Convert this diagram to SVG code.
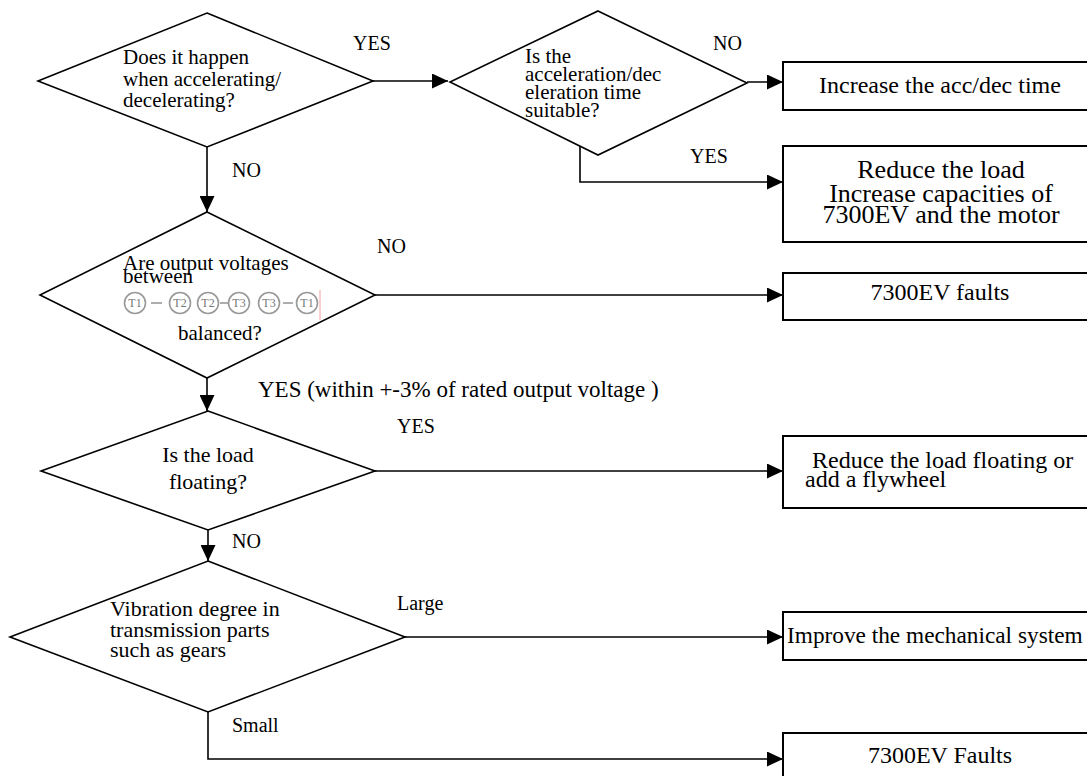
<svg xmlns="http://www.w3.org/2000/svg" width="1087" height="776" viewBox="0 0 1087 776">
<style>
text{font-family:"Liberation Serif","Times New Roman",serif;fill:#000}
.d{fill:#fff;stroke:#000;stroke-width:1.6}
.b{fill:#fff;stroke:#000;stroke-width:2}
.c{fill:none;stroke:#000;stroke-width:1.6}
.lab{font-size:20px}
.dt{font-size:21px}
.bt{font-size:24px}
.tc{fill:#fff;stroke:#999;stroke-width:1.6}
.tl{stroke:#999;stroke-width:1.6}
.tt{font-size:12px;fill:#777}
</style>
<defs>
<marker id="ah" markerUnits="userSpaceOnUse" markerWidth="16" markerHeight="15" refX="16" refY="7.5" orient="auto">
<path d="M0,0 L16,7.5 L0,15 z" fill="#000"/>
</marker>
</defs>
<rect width="1087" height="776" fill="#fff"/>

<g id="connectors">
<path class="c" d="M373,81 H448" marker-end="url(#ah)"/>
<path class="c" d="M747,82 H783" marker-end="url(#ah)"/>
<path class="c" d="M580,146 V182 H783" marker-end="url(#ah)"/>
<path class="c" d="M207,147 V212" marker-end="url(#ah)"/>
<path class="c" d="M375,295 H783" marker-end="url(#ah)"/>
<path class="c" d="M207,378 V411" marker-end="url(#ah)"/>
<path class="c" d="M375,471 H783" marker-end="url(#ah)"/>
<path class="c" d="M208,530 V561" marker-end="url(#ah)"/>
<path class="c" d="M405,637 H783" marker-end="url(#ah)"/>
<path class="c" d="M208,712 V759 H783" marker-end="url(#ah)"/>
</g>

<g id="labels">
<text class="lab" x="353" y="50">YES</text>
<text class="lab" x="232" y="177">NO</text>
<text class="lab" x="713" y="50">NO</text>
<text class="lab" x="690" y="163">YES</text>
<text class="lab" x="377" y="253">NO</text>
<text x="258" y="397" font-size="23">YES (within +-3% of rated output voltage )</text>
<text class="lab" x="397" y="433">YES</text>
<text class="lab" x="232" y="548">NO</text>
<text class="lab" x="397" y="610">Large</text>
<text class="lab" x="232" y="732">Small</text>
</g>

<g id="d1">
<polygon class="d" points="207,13 373,81 207,147 38,81"/>
<text class="dt" x="123" y="64">Does it happen</text>
<text class="dt" x="123" y="86">when accelerating/</text>
<text class="dt" x="123" y="107">decelerating?</text>
</g>

<g id="d2">
<polygon class="d" points="598,11 747,83 598,155 450,82"/>
<text class="dt" x="525" y="63">Is the</text>
<text class="dt" x="525" y="81">acceleration/dec</text>
<text class="dt" x="525" y="99">eleration time</text>
<text class="dt" x="525" y="117">suitable?</text>
</g>

<g id="d3">
<polygon class="d" points="207,212 375,295 207,378 40,295"/>
<text class="dt" x="123" y="270">Are output voltages</text>
<text class="dt" x="123" y="283">between</text>
<g id="terminals">
<line class="tl" x1="151" y1="303" x2="162" y2="303"/>
<line class="tl" x1="220" y1="303" x2="228" y2="303"/>
<line class="tl" x1="283" y1="303" x2="293" y2="303"/>
<circle class="tc" cx="135" cy="303" r="10.5"/>
<circle class="tc" cx="180" cy="303" r="10.5"/>
<circle class="tc" cx="208" cy="303" r="10.5"/>
<circle class="tc" cx="239" cy="303" r="10.5"/>
<circle class="tc" cx="269" cy="303" r="10.5"/>
<circle class="tc" cx="307" cy="303" r="10.5"/>
<text class="tt" x="135" y="307" text-anchor="middle">T1</text>
<text class="tt" x="180" y="307" text-anchor="middle">T2</text>
<text class="tt" x="208" y="307" text-anchor="middle">T2</text>
<text class="tt" x="239" y="307" text-anchor="middle">T3</text>
<text class="tt" x="269" y="307" text-anchor="middle">T3</text>
<text class="tt" x="307" y="307" text-anchor="middle">T1</text>
<line x1="320" y1="290" x2="320" y2="320" stroke="#f4a0a0" stroke-width="1"/>
</g>
<text class="dt" x="178" y="340">balanced?</text>
</g>

<g id="d4">
<polygon class="d" points="208,411 375,471 208,530 41,471"/>
<text x="208" y="462" font-size="22" text-anchor="middle">Is the load</text>
<text x="208" y="489" font-size="22" text-anchor="middle">floating?</text>
</g>

<g id="d5">
<polygon class="d" points="208,561 405,637 208,712 10,637"/>
<text x="110" y="616" font-size="22">Vibration degree in</text>
<text x="110" y="637" font-size="22">transmission parts</text>
<text x="110" y="657" font-size="22">such as gears</text>
</g>

<g id="b1">
<rect class="b" x="783" y="62" width="320" height="48"/>
<text class="bt" x="940" y="93" text-anchor="middle">Increase the acc/dec time</text>
</g>

<g id="b2">
<rect class="b" x="783" y="146" width="320" height="96"/>
<text x="941" y="178" font-size="26" text-anchor="middle">Reduce the load</text>
<text x="941" y="202" font-size="26" text-anchor="middle">Increase capacities of</text>
<text x="941" y="223" font-size="26" text-anchor="middle">7300EV and the motor</text>
</g>

<g id="b3">
<rect class="b" x="783" y="273" width="320" height="47"/>
<text class="bt" x="940" y="300" text-anchor="middle">7300EV faults</text>
</g>

<g id="b4">
<rect class="b" x="783" y="436" width="320" height="72"/>
<text class="bt" x="812" y="468">Reduce the load floating or</text>
<text class="bt" x="805" y="487">add a flywheel</text>
</g>

<g id="b5">
<rect class="b" x="783" y="612" width="320" height="48"/>
<text x="787" y="643" font-size="23.3">Improve the mechanical system</text>
</g>

<g id="b6">
<rect class="b" x="783" y="733" width="320" height="60"/>
<text class="bt" x="940" y="763" text-anchor="middle">7300EV Faults</text>
</g>
</svg>
